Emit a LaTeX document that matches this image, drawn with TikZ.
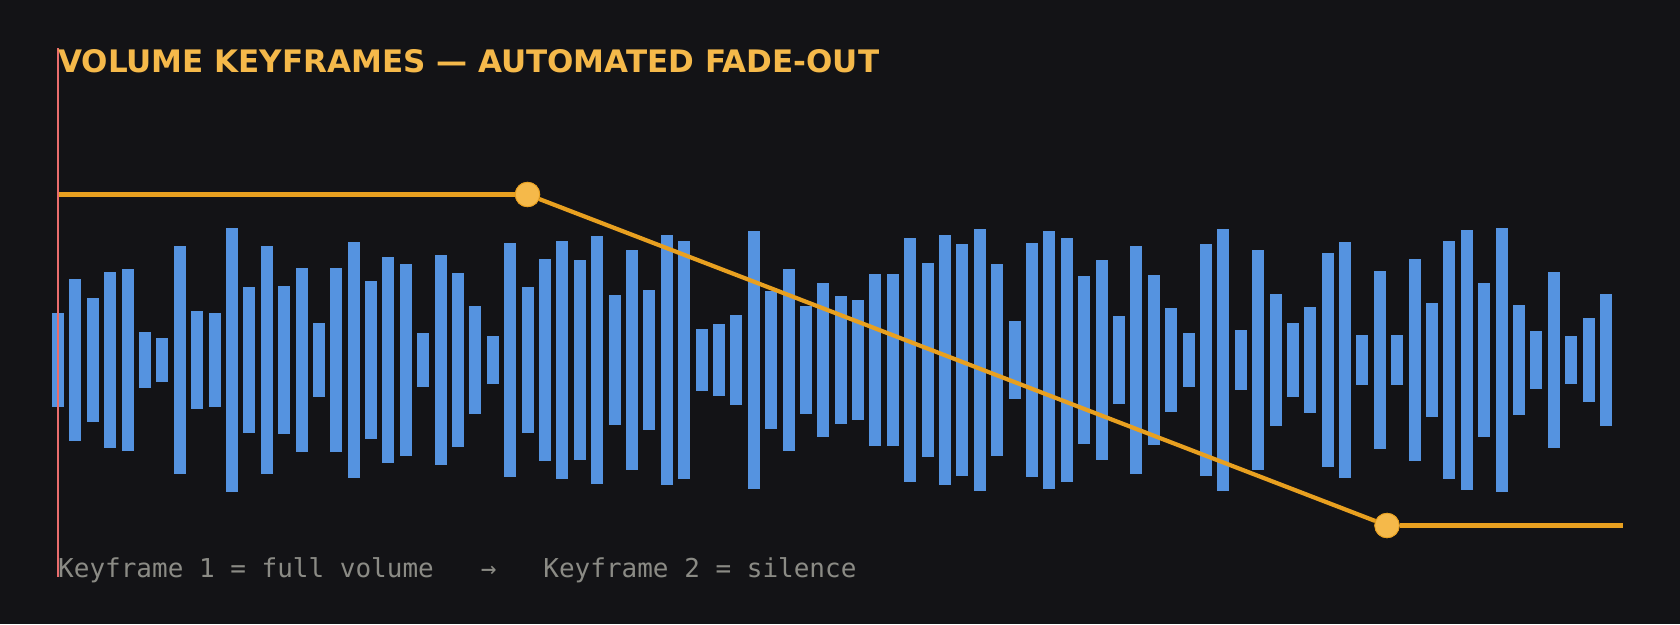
\documentclass[tikz,border=0pt]{standalone}
\usepackage{fontspec}
\setmainfont{DejaVu Sans}
\newfontfamily\monof{DejaVu Sans Mono}
\definecolor{bgc}{HTML}{131316}
\definecolor{barc}{HTML}{5593E0}
\definecolor{linec}{HTML}{E8A020}
\definecolor{kfc}{HTML}{F5B94A}
\definecolor{titlec}{HTML}{F5B94A}
\definecolor{redc}{HTML}{E96D6D}
\definecolor{textc}{HTML}{8B8B85}
\tikzset{
  wavebar/.style={fill=barc, draw=none},
  autoline/.style={draw=linec, line width=4.2pt, line join=round},
  keyframe/.style={circle, fill=kfc, draw=linec, line width=0.8pt, minimum size=24.5pt, inner sep=0pt},
  playhead/.style={draw=redc, line width=1.6pt},
}
\begin{document}
\begin{tikzpicture}[x=1pt,y=-1pt]
\fill[bgc] (0,0) rectangle (1680,624);
\useasboundingbox (0,0) rectangle (1680,624);
\foreach \h [count=\i from 0] in {47,81,62,88,91,28,22,114,49,47,
132,73,114,74,92,37,92,118,79,103,
96,27,105,87,54,24,117,73,101,119,
100,124,65,110,70,125,119,31,36,45,
129,69,91,54,77,64,60,86,86,122,
97,125,116,131,96,39,117,129,122,84,
100,44,114,85,52,27,116,131,30,110,
66,37,53,107,118,25,89,25,101,57,
119,130,77,132,55,29,88,24,42,66}{
  \pgfmathsetmacro\bx{52+\i*17.393}
  \fill[wavebar] (\bx,360-\h) rectangle (\bx+12,360+\h);
}
\coordinate (start) at (59,194.5);
\coordinate (finish) at (1623,525.5);
\node[keyframe] (kf1) at (527.5,194.5) {};
\node[keyframe] (kf2) at (1387,525.5) {};
\draw[autoline] (start) -- (kf1.west);
\draw[autoline] (kf1) -- (kf2);
\draw[autoline] (kf2.east) -- (finish);
\node[keyframe] at (kf1) {};
\node[keyframe] at (kf2) {};
\coordinate (ptop) at (58,48);
\coordinate (pbot) at (58,577);
\draw[playhead] (ptop) -- (pbot);
\node[anchor=base west, inner sep=0pt, text=titlec, font=\fontsize{31}{37}\selectfont\bfseries] (title) at (58,72) {VOLUME KEYFRAMES — AUTOMATED FADE-OUT};
\node[anchor=base west, inner sep=0pt, text=textc, font=\fontsize{26}{31}\selectfont\monof] (caption) at (58,577) {Keyframe 1 = full volume~~~→~~~Keyframe 2 = silence};
\end{tikzpicture}
\end{document}
